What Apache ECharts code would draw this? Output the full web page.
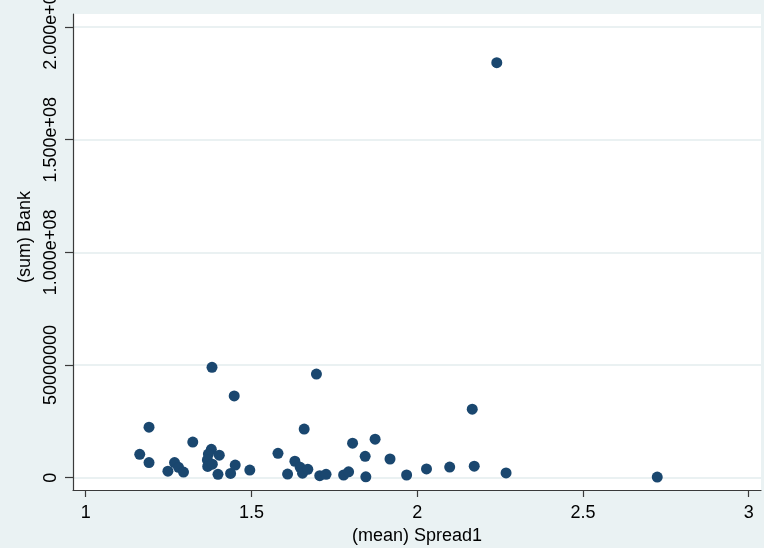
<!DOCTYPE html>
<html>
<head>
<meta charset="utf-8">
<script src="https://cdn.jsdelivr.net/npm/echarts@6/dist/echarts.min.js"></script>
<style>
html,body{margin:0;padding:0;background:#eaf2f3;}
#chart{width:764px;height:548px;}
</style>
</head>
<body>
<div id="chart"></div>
<script>
var spread = [1.381, 1.696, 1.448, 1.191, 1.659, 1.323, 1.163, 1.191, 1.248, 1.268,
              1.280, 1.295, 1.379, 1.370, 1.403, 1.367, 1.368, 1.382, 1.399, 1.437,
              1.451, 1.495, 1.580, 1.609, 1.631, 1.647, 1.654, 1.670, 1.706, 1.725,
              1.778, 1.793, 1.805, 1.843, 1.845, 1.873, 1.918, 1.968, 2.028, 2.098,
              2.166, 2.172, 2.268, 2.724, 2.240];
var bank = [49.0e6, 46.0e6, 36.3e6, 22.4e6, 21.6e6, 15.8e6, 10.4e6, 6.7e6, 2.9e6, 6.7e6,
            4.6e6, 2.5e6, 12.6e6, 10.5e6, 10.0e6, 7.9e6, 5.0e6, 6.0e6, 1.5e6, 1.9e6,
            5.6e6, 3.4e6, 10.8e6, 1.6e6, 7.3e6, 4.6e6, 2.0e6, 3.7e6, 0.9e6, 1.5e6,
            1.2e6, 2.6e6, 15.3e6, 9.5e6, 0.4e6, 17.1e6, 8.3e6, 1.2e6, 3.9e6, 4.7e6,
            30.4e6, 5.1e6, 2.1e6, 0.3e6, 184.2e6];
var xTicks = [1, 1.5, 2, 2.5, 3];
var yTicks = [0, 50000000, 100000000, 150000000, 200000000];
var yTickLabels = ['0', '50000000', '1.000e+08', '1.500e+08', '2.000e+08'];
var xTitle = '(mean) Spread1';
var yTitle = '(sum) Bank';

var points = spread.map(function (x, i) { return [x, bank[i]]; });
var font = 'Liberation Sans, Arial, Helvetica, sans-serif';

var chart = echarts.init(document.getElementById('chart'), null, {renderer: 'canvas'});
chart.setOption({
  animation: false,
  backgroundColor: '#eaf2f3',
  grid: {
    left: 73, right: 3, top: 14, bottom: 58,
    containLabel: false,
    outerBoundsMode: 'none',
    show: true, backgroundColor: '#ffffff', borderWidth: 0
  },
  xAxis: {
    type: 'value',
    min: 0.9617, max: 3.037,
    name: xTitle,
    nameLocation: 'middle',
    nameGap: 32,
    nameTextStyle: {color: '#000', fontSize: 18, fontFamily: font},
    axisLine: {show: true, onZero: false, lineStyle: {color: '#3a3a3a', width: 1.2}},
    axisTick: {show: true, length: 7, customValues: xTicks, lineStyle: {color: '#3a3a3a', width: 1.2}},
    axisLabel: {customValues: xTicks, margin: 14, color: '#000', fontSize: 18, fontFamily: font,
      formatter: function (v) { return String(v); }},
    splitLine: {show: false}
  },
  yAxis: {
    type: 'value',
    min: -5.46e6, max: 205.8e6,
    name: yTitle,
    nameLocation: 'middle',
    nameGap: 33,
    nameRotate: 90,
    nameTextStyle: {color: '#000', fontSize: 18, fontFamily: font, padding: [0, 0, 0, 30]},
    axisLine: {show: true, onZero: false, lineStyle: {color: '#3a3a3a', width: 1.2}},
    axisTick: {show: true, length: 8, customValues: yTicks, lineStyle: {color: '#3a3a3a', width: 1.2}},
    axisLabel: {customValues: yTicks, rotate: 90, margin: 13, color: '#000', fontSize: 18, fontFamily: font,
      formatter: function (v) {
        var i = yTicks.indexOf(v);
        return i >= 0 ? yTickLabels[i] : '';
      }},
    splitLine: {show: true, lineStyle: {color: '#e3ecee', width: 1.5}}
  },
  series: [{
    type: 'scatter',
    data: points,
    symbol: 'circle',
    symbolSize: 11,
    itemStyle: {color: '#1a476f', opacity: 1},
    clip: false
  }]
});
</script>
</body>
</html>
